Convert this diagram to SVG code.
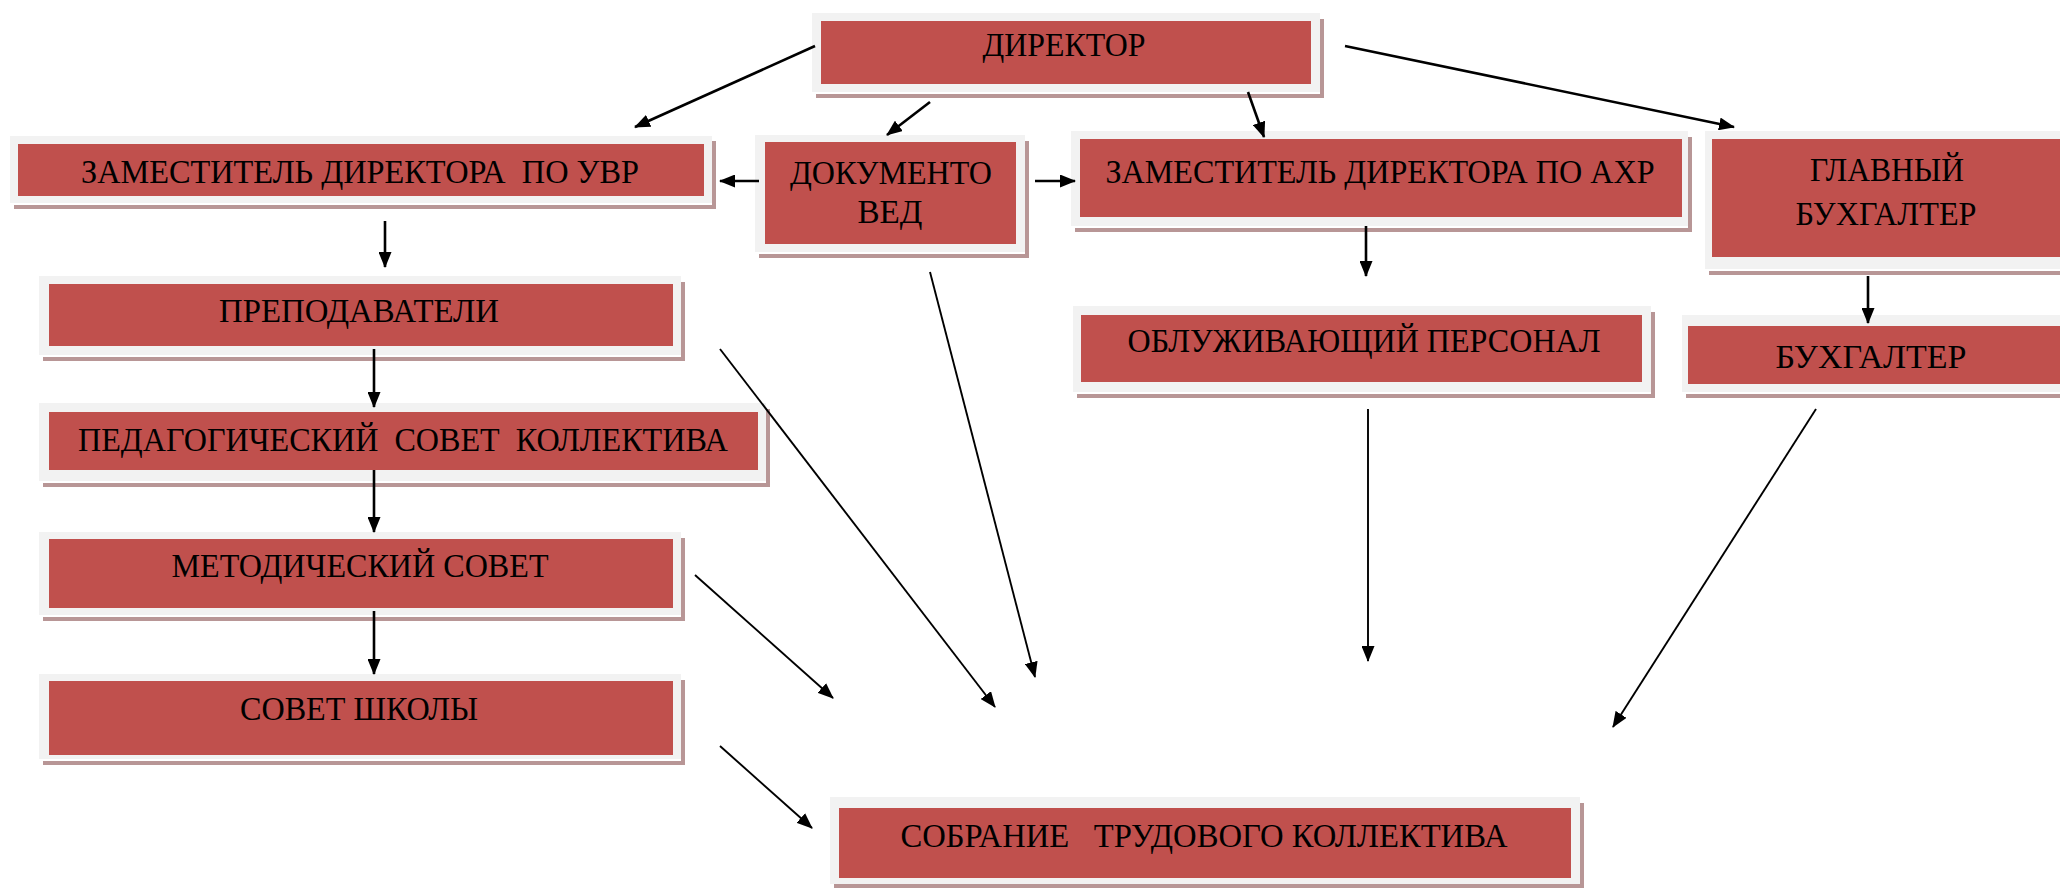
<svg xmlns="http://www.w3.org/2000/svg" width="2060" height="888" viewBox="0 0 2060 888">
<defs>
<style>
.sh{fill:#b89696}
.fr{fill:#f2f2f2}
.ln{fill:#ffffff}
.rd{fill:#c0504d}
.t{font-family:"Liberation Serif","Times New Roman",serif;font-size:33px;fill:#000;text-anchor:middle;white-space:pre}
.c{stroke:#000;fill:none;stroke-width:2.6}
.c2{stroke:#000;fill:none;stroke-width:1.9}
</style>
<marker id="ah" markerUnits="userSpaceOnUse" markerWidth="16" markerHeight="13" refX="15" refY="6.5" orient="auto" viewBox="0 0 16 13">
<path d="M0,0 L16,6.5 L0,13 z" fill="#000"/>
</marker>
</defs>
<rect width="2060" height="888" fill="#ffffff"/>

<g id="director">
<rect class="sh" x="816" y="19" width="508" height="79"/>
<rect class="fr" x="812" y="13" width="508" height="79"/>
<rect class="ln" x="812" y="92" width="508" height="2"/>
<rect class="rd" x="821" y="21" width="490" height="63"/>
<text class="t" x="1064" y="56" textLength="163" lengthAdjust="spacingAndGlyphs">ДИРЕКТОР</text>
</g>

<g id="zam-uvr">
<rect class="sh" x="14" y="141" width="702" height="68"/>
<rect class="fr" x="10" y="136" width="702" height="67"/>
<rect class="ln" x="10" y="203" width="702" height="2"/>
<rect class="rd" x="18" y="144" width="686" height="52"/>
<text class="t" x="360" y="183" textLength="558" lengthAdjust="spacingAndGlyphs">ЗАМЕСТИТЕЛЬ ДИРЕКТОРА  ПО УВР</text>
</g>

<g id="dokumentoved">
<rect class="sh" x="759" y="141" width="270" height="117"/>
<rect class="fr" x="755" y="135" width="270" height="117"/>
<rect class="ln" x="755" y="252" width="270" height="2"/>
<rect class="rd" x="765" y="142" width="251" height="102"/>
<text class="t" x="891" y="184" textLength="202" lengthAdjust="spacingAndGlyphs">ДОКУМЕНТО</text>
<text class="t" x="890" y="223" textLength="65" lengthAdjust="spacingAndGlyphs">ВЕД</text>
</g>

<g id="zam-axr">
<rect class="sh" x="1075" y="137" width="617" height="95"/>
<rect class="fr" x="1071" y="131" width="617" height="95"/>
<rect class="ln" x="1071" y="226" width="617" height="2"/>
<rect class="rd" x="1080" y="139" width="602" height="78"/>
<text class="t" x="1380" y="183" textLength="549" lengthAdjust="spacingAndGlyphs">ЗАМЕСТИТЕЛЬ ДИРЕКТОРА ПО АХР</text>
</g>

<g id="glavbuh">
<rect class="sh" x="1709" y="137" width="355" height="138"/>
<rect class="fr" x="1705" y="131" width="355" height="138"/>
<rect class="ln" x="1705" y="269" width="355" height="2"/>
<rect class="rd" x="1712" y="139" width="348" height="118"/>
<text class="t" x="1887" y="181" textLength="154" lengthAdjust="spacingAndGlyphs">ГЛАВНЫЙ</text>
<text class="t" x="1886" y="225" textLength="181" lengthAdjust="spacingAndGlyphs">БУХГАЛТЕР</text>
</g>

<g id="prepodavateli">
<rect class="sh" x="43" y="282" width="642" height="79"/>
<rect class="fr" x="39" y="276" width="642" height="79"/>
<rect class="ln" x="39" y="355" width="642" height="2"/>
<rect class="rd" x="49" y="284" width="624" height="62"/>
<text class="t" x="359" y="322" textLength="280" lengthAdjust="spacingAndGlyphs">ПРЕПОДАВАТЕЛИ</text>
</g>

<g id="obsl-personal">
<rect class="sh" x="1077" y="312" width="578" height="86"/>
<rect class="fr" x="1073" y="306" width="578" height="86"/>
<rect class="ln" x="1073" y="392" width="578" height="2"/>
<rect class="rd" x="1081" y="315" width="561" height="67"/>
<text class="t" x="1364" y="352" textLength="473" lengthAdjust="spacingAndGlyphs">ОБЛУЖИВАЮЩИЙ ПЕРСОНАЛ</text>
</g>

<g id="buhgalter">
<rect class="sh" x="1686" y="321" width="378" height="77"/>
<rect class="fr" x="1682" y="315" width="378" height="77"/>
<rect class="ln" x="1682" y="392" width="378" height="2"/>
<rect class="rd" x="1688" y="326" width="372" height="58"/>
<text class="t" x="1871" y="368" textLength="191" lengthAdjust="spacingAndGlyphs">БУХГАЛТЕР</text>
</g>

<g id="pedsovet">
<rect class="sh" x="43" y="409" width="727" height="78"/>
<rect class="fr" x="39" y="403" width="727" height="78"/>
<rect class="ln" x="39" y="481" width="727" height="2"/>
<rect class="rd" x="49" y="412" width="709" height="58"/>
<text class="t" x="403" y="451" textLength="650" lengthAdjust="spacingAndGlyphs">ПЕДАГОГИЧЕСКИЙ  СОВЕТ  КОЛЛЕКТИВА</text>
</g>

<g id="metodsovet">
<rect class="sh" x="43" y="538" width="642" height="83"/>
<rect class="fr" x="39" y="532" width="642" height="83"/>
<rect class="ln" x="39" y="615" width="642" height="2"/>
<rect class="rd" x="49" y="539" width="624" height="69"/>
<text class="t" x="360" y="577" textLength="377" lengthAdjust="spacingAndGlyphs">МЕТОДИЧЕСКИЙ СОВЕТ</text>
</g>

<g id="sovet-shkoly">
<rect class="sh" x="43" y="680" width="642" height="85"/>
<rect class="fr" x="39" y="674" width="642" height="85"/>
<rect class="ln" x="39" y="759" width="642" height="2"/>
<rect class="rd" x="49" y="681" width="624" height="74"/>
<text class="t" x="359" y="720" textLength="238" lengthAdjust="spacingAndGlyphs">СОВЕТ ШКОЛЫ</text>
</g>

<g id="sobranie">
<rect class="sh" x="834" y="803" width="750" height="87"/>
<rect class="fr" x="830" y="797" width="750" height="87"/>
<rect class="rd" x="839" y="808" width="732" height="70"/>
<text class="t" x="1204" y="847" textLength="607" lengthAdjust="spacingAndGlyphs">СОБРАНИЕ   ТРУДОВОГО КОЛЛЕКТИВА</text>
</g>

<g id="connectors">
<line class="c" x1="815" y1="46" x2="635" y2="127" marker-end="url(#ah)"/>
<line class="c" x1="930" y1="102" x2="887" y2="135" marker-end="url(#ah)"/>
<line class="c" x1="1248" y1="92" x2="1264" y2="137" marker-end="url(#ah)"/>
<line class="c" x1="1345" y1="46" x2="1734" y2="127" marker-end="url(#ah)"/>
<line class="c" x1="759" y1="181" x2="720" y2="181" marker-end="url(#ah)"/>
<line class="c" x1="1035" y1="181" x2="1075" y2="181" marker-end="url(#ah)"/>
<line class="c" x1="385" y1="221" x2="385" y2="267" marker-end="url(#ah)"/>
<line class="c" x1="374" y1="349" x2="374" y2="407" marker-end="url(#ah)"/>
<line class="c" x1="374" y1="470" x2="374" y2="532" marker-end="url(#ah)"/>
<line class="c" x1="374" y1="611" x2="374" y2="674" marker-end="url(#ah)"/>
<line class="c" x1="1366" y1="226" x2="1366" y2="276" marker-end="url(#ah)"/>
<line class="c" x1="1868" y1="276" x2="1868" y2="323" marker-end="url(#ah)"/>
<line class="c2" x1="720" y1="349" x2="995" y2="707" marker-end="url(#ah)"/>
<line class="c2" x1="930" y1="272" x2="1035" y2="677" marker-end="url(#ah)"/>
<line class="c2" x1="1368" y1="409" x2="1368" y2="661" marker-end="url(#ah)"/>
<line class="c2" x1="1816" y1="409" x2="1613" y2="727" marker-end="url(#ah)"/>
<line class="c2" x1="695" y1="575" x2="833" y2="698" marker-end="url(#ah)"/>
<line class="c2" x1="720" y1="746" x2="812" y2="828" marker-end="url(#ah)"/>
</g>
</svg>
